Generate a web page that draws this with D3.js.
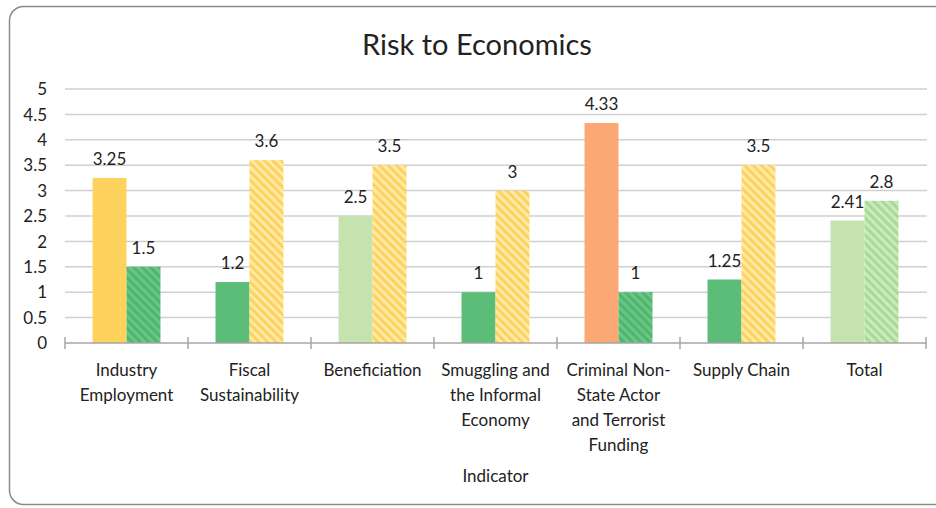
<!DOCTYPE html>
<html><head><meta charset="utf-8">
<script src="https://cdn.jsdelivr.net/npm/d3@7"></script>
<style>
html,body{margin:0;padding:0;background:#fff;}
svg{display:block;font-family:Lato,"Open Sans",sans-serif;}
</style></head>
<body>
<svg id="c" width="936" height="508"></svg>
<script>
const title = "Risk to Economics";
const axisTitle = "Indicator";
const categories = [
  ["Industry","Employment"],
  ["Fiscal","Sustainability"],
  ["Beneficiation"],
  ["Smuggling and","the Informal","Economy"],
  ["Criminal Non-","State Actor","and Terrorist","Funding"],
  ["Supply Chain"],
  ["Total"]
];
const solidValues   = [3.25, 1.2, 2.5, 1, 4.33, 1.25, 2.41];
const hatchedValues = [1.5, 3.6, 3.5, 3, 1, 3.5, 2.8];
const solidColors   = ["#FDD35E","#5CBD78","#C5E3AE","#5CBD78","#FBA874","#5CBD78","#C5E3AE"];
const hatchedColors = ["green","yellow","yellow","yellow","green","yellow","lightgreen"];
const yTicks = [0,0.5,1,1.5,2,2.5,3,3.5,4,4.5,5];
const yTickLabels = ["0","0.5","1","1.5","2","2.5","3","3.5","4","4.5","5"];

(function(){
const svg = d3.select("#c");
const defs = svg.append("defs");
const patterns = {
  yellow: {bg:"#FFE9A6", fg:"#FDD35E"},
  green: {bg:"#67C784", fg:"#52B46F"},
  lightgreen: {bg:"#CBEABB", fg:"#A9D998"}
};
Object.entries(patterns).forEach(([k,v])=>{
  const p = defs.append("pattern").attr("id","h-"+k).attr("patternUnits","userSpaceOnUse")
    .attr("width",6).attr("height",6).attr("patternTransform","rotate(-45)");
  p.append("rect").attr("width",6).attr("height",6).attr("fill",v.bg);
  p.append("rect").attr("width",3).attr("height",6).attr("fill",v.fg);
});

svg.append("rect").attr("x",9.5).attr("y",6.5).attr("width",940).attr("height",498)
  .attr("rx",14).attr("fill","none").attr("stroke","#8a8a8a").attr("stroke-width",1.5);

const pl=65, pr=926, pt=89, pb=343;
const x = d3.scaleBand().domain(d3.range(categories.length)).range([pl,pr]).padding(0);
const xs = d3.scaleBand().domain(["s","h"]).range([0,x.bandwidth()]).paddingInner(0).paddingOuter(0.81);
const y = d3.scaleLinear().domain([0,5]).range([pb,pt]);

svg.append("text").attr("x",477).attr("y",55).attr("text-anchor","middle")
  .attr("font-size",29).attr("fill","#222").text(title);

svg.append("g").selectAll("line").data(yTicks.filter(d=>d>0)).join("line")
  .attr("x1",pl).attr("x2",pr+1).attr("y1",d=>y(d)).attr("y2",d=>y(d))
  .attr("stroke","#D0D0D0").attr("stroke-width",1.5);

svg.append("g").selectAll("text").data(yTicks).join("text")
  .attr("x",47).attr("y",d=>y(d)).attr("dy","0.36em").attr("text-anchor","end")
  .attr("font-size",17).attr("fill","#222").text((d,i)=>yTickLabels[i]);

const g = svg.append("g");
categories.forEach((c,i)=>{
  const x0 = x(i);
  g.append("rect").attr("x",x0+xs("s")).attr("width",xs.bandwidth())
    .attr("y",y(solidValues[i])).attr("height",y(0)-y(solidValues[i])).attr("fill",solidColors[i]);
  g.append("rect").attr("x",x0+xs("h")).attr("width",xs.bandwidth())
    .attr("y",y(hatchedValues[i])).attr("height",y(0)-y(hatchedValues[i])).attr("fill","url(#h-"+hatchedColors[i]+")");
  g.append("text").attr("x",x0+xs("s")+xs.bandwidth()/2).attr("y",y(solidValues[i])-13)
    .attr("text-anchor","middle").attr("font-size",17).attr("fill","#222").text(solidValues[i]);
  g.append("text").attr("x",x0+xs("h")+xs.bandwidth()/2).attr("y",y(hatchedValues[i])-13)
    .attr("text-anchor","middle").attr("font-size",17).attr("fill","#222").text(hatchedValues[i]);
});

const ax = svg.append("g");
ax.append("line").attr("x1",pl).attr("x2",pr+1).attr("y1",pb).attr("y2",pb)
  .attr("stroke","#A6A6A6").attr("stroke-width",1.5);
d3.range(categories.length+1).forEach(i=>{
  const xx = i<categories.length ? x(i) : pr;
  ax.append("line").attr("x1",xx).attr("x2",xx).attr("y1",pb-6).attr("y2",pb+6)
    .attr("stroke","#A6A6A6").attr("stroke-width",1.5);
});
categories.forEach((lines,i)=>{
  const t = ax.append("text").attr("text-anchor","middle").attr("font-size",17).attr("fill","#222");
  lines.forEach((l,j)=>{
    t.append("tspan").attr("x",x(i)+x.bandwidth()/2).attr("y",376+j*25).text(l);
  });
});
svg.append("text").attr("x",(pl+pr)/2).attr("y",482).attr("text-anchor","middle")
  .attr("font-size",17).attr("fill","#222").text(axisTitle);
})();
</script>
</body></html>
